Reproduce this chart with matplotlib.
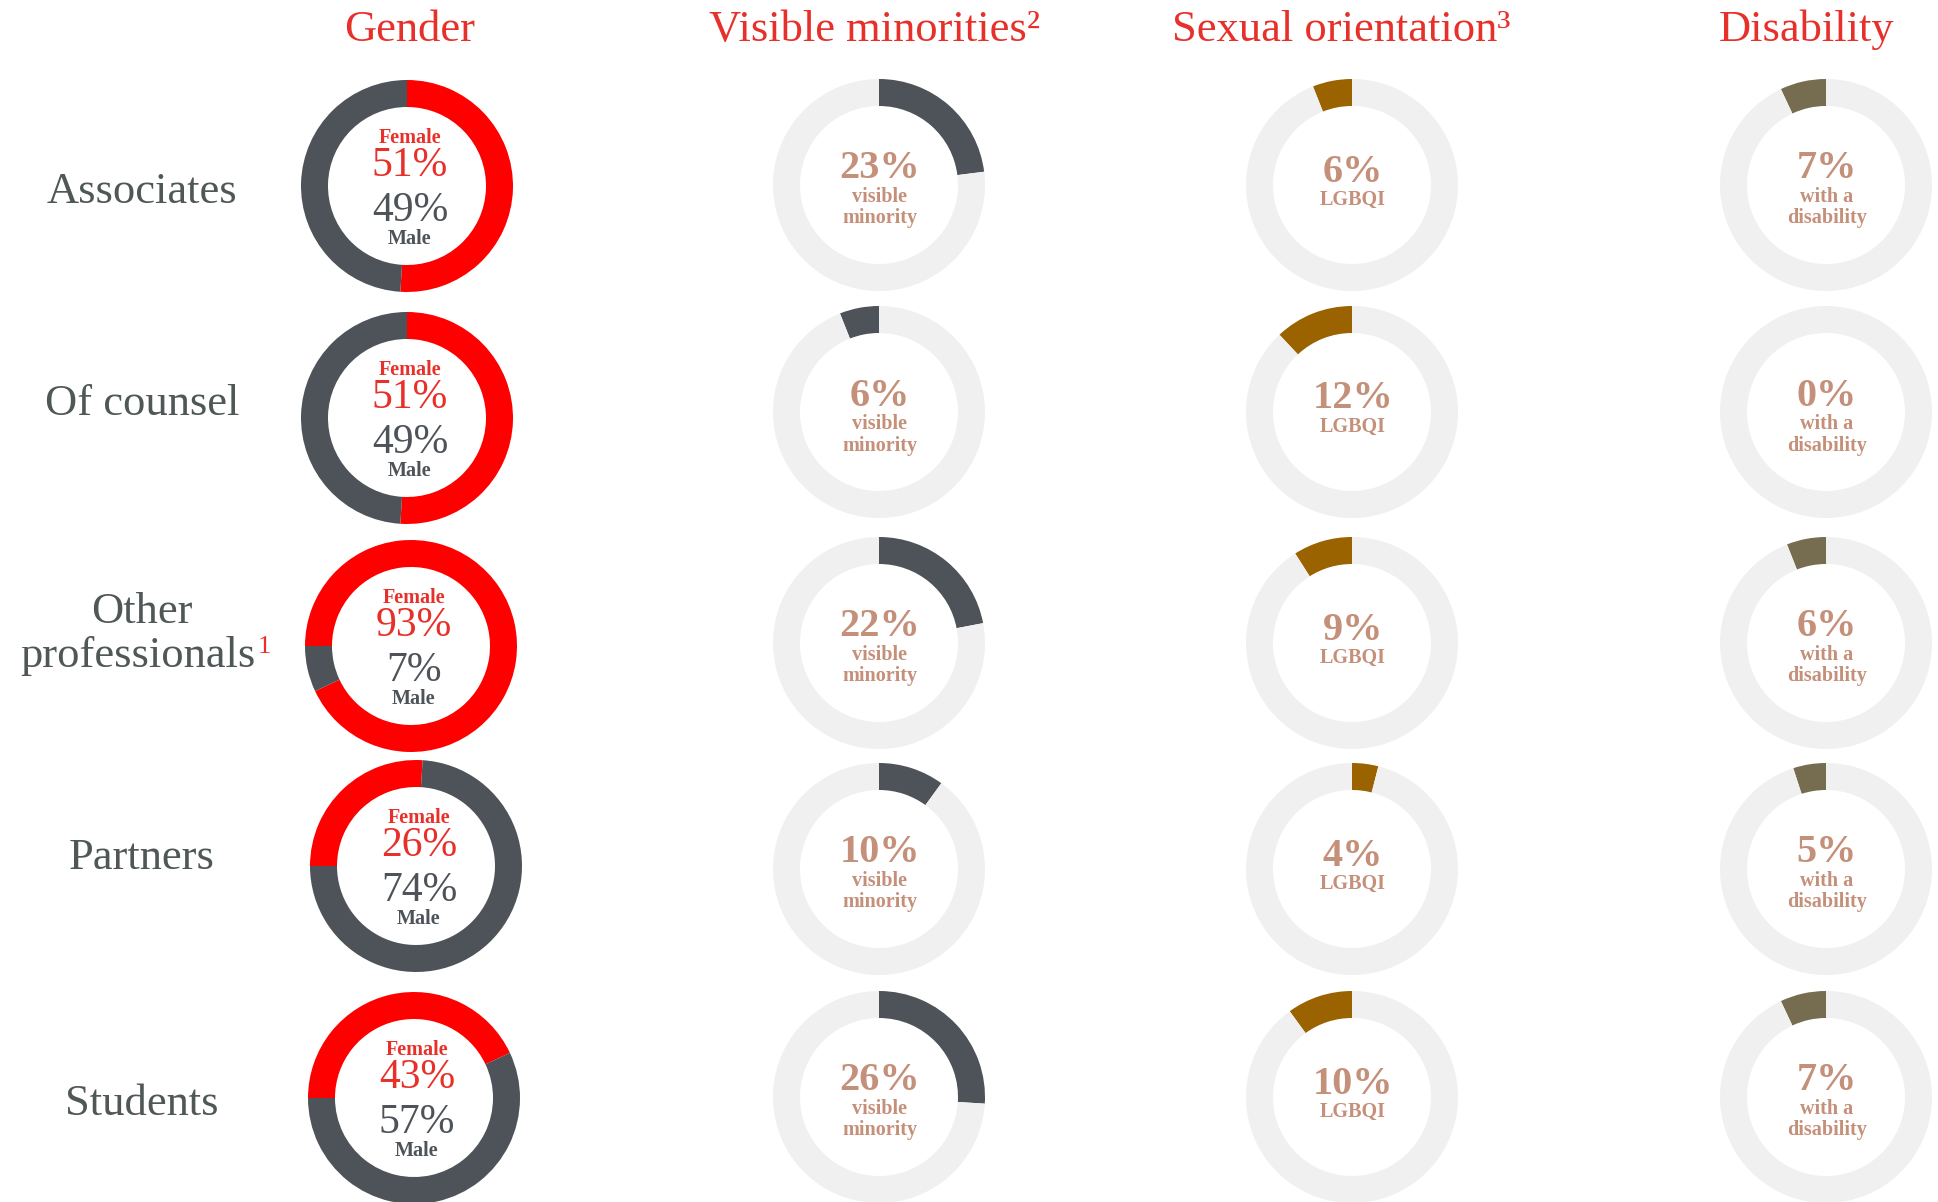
import matplotlib
matplotlib.use('Agg')
import matplotlib.pyplot as plt

# data
rows = ['Associates', 'Of counsel', 'Other professionals', 'Partners', 'Students']
female = [51, 51, 93, 26, 43]
male = [49, 49, 7, 74, 57]
visible_minority = [23, 6, 22, 10, 26]
lgbqi = [6, 12, 9, 4, 10]
disability = [7, 0, 6, 5, 7]

titles = ['Gender', 'Visible minorities\u00b2', 'Sexual orientation\u00b3', 'Disability']

W, H = 1938, 1202
RED = '#FF0000'
TXT_RED = '#E8302A'
GRAY = '#4D5358'
BG = '#F0F0F0'
TAN = '#C5907A'
LABEL = '#4F5757'

plt.rcParams['font.family'] = ['Liberation Serif', 'DejaVu Serif']

fig = plt.figure(figsize=(W / 100, H / 100), dpi=100)
ax = fig.add_axes([0, 0, 1, 1])

R, RW = 106, 27
gender_xy = [(407, 186), (407, 418), (411, 646), (416, 866), (414, 1098)]
col_x = [879, 1352, 1826]
row_y = [185, 412, 643, 869, 1097]
gender_start = [90, 90, 180, 180, 180]
# direction of the highlighted arc (True = counter clockwise)
vm_ccw = [False, True, False, False, False]
so_ccw = [True, True, True, False, True]
dis_ccw = [True, True, True, True, True]


def donut(vals, colors, x, y, start, ccw):
    ax.pie(vals, colors=colors, startangle=start, counterclock=ccw,
           center=(x, H - y), radius=R, frame=True,
           wedgeprops=dict(width=RW, linewidth=0))


for i in range(len(rows)):
    gx, gy = gender_xy[i]
    donut([female[i], male[i]], [RED, GRAY], gx, gy, gender_start[i], False)
    ax.text(gx + 3, H - (gy - 48), 'Female', color=TXT_RED, fontsize=14.5,
            fontweight='bold', ha='center', va='center')
    ax.text(gx + 3, H - (gy - 20), '{}%'.format(female[i]), color=TXT_RED,
            fontsize=30, ha='center', va='center')
    ax.text(gx + 3, H - (gy + 25), '{}%'.format(male[i]), color=GRAY,
            fontsize=30, ha='center', va='center')
    ax.text(gx + 3, H - (gy + 53), 'Male', color=GRAY, fontsize=14.5,
            fontweight='bold', ha='center', va='center')

    for j, (vals, col, ccw, sub) in enumerate([
            (visible_minority, GRAY, vm_ccw, 'visible\nminority'),
            (lgbqi, '#9B6200', so_ccw, 'LGBQI'),
            (disability, '#766D50', dis_ccw, 'with a\ndisability')]):
        cx, cy = col_x[j], row_y[i]
        donut([vals[i], 100 - vals[i]], [col, BG], cx, cy, 90, ccw[i])
        if '\n' in sub:
            ny = cy - 16
        else:
            ny = cy - 13
        ax.text(cx + 1, H - ny, '{}%'.format(vals[i]), color=TAN, fontsize=29,
                fontweight='bold', ha='center', va='center')
        ax.text(cx + 1, H - (ny + 18), sub, color=TAN, fontsize=14.5,
                fontweight='bold', ha='center', va='top', linespacing=1.1)

# row labels
label_y = [192, 404, None, 858, 1104]
for i, name in enumerate(rows):
    if label_y[i] is None:
        continue
    ax.text(142, H - label_y[i], name, color=LABEL, fontsize=32,
            ha='center', va='center')
ax.text(142, H - 612, 'Other', color=LABEL, fontsize=32, ha='center', va='center')
ax.text(256, H - 656, 'professionals', color=LABEL, fontsize=32, ha='right', va='center')
ax.text(258, H - 647, '1', color=TXT_RED, fontsize=19, ha='left', va='center')

# column titles
title_x = [410, 875, 1341, 1807]
for t, tx in zip(titles, title_x):
    ax.text(tx, H - 30, t, color=TXT_RED, fontsize=32, ha='center', va='center')

ax.set_xlim(0, W)
ax.set_ylim(0, H)
ax.set_aspect('equal')
ax.axis('off')

fig.savefig('out.png', dpi=100, facecolor='white')
